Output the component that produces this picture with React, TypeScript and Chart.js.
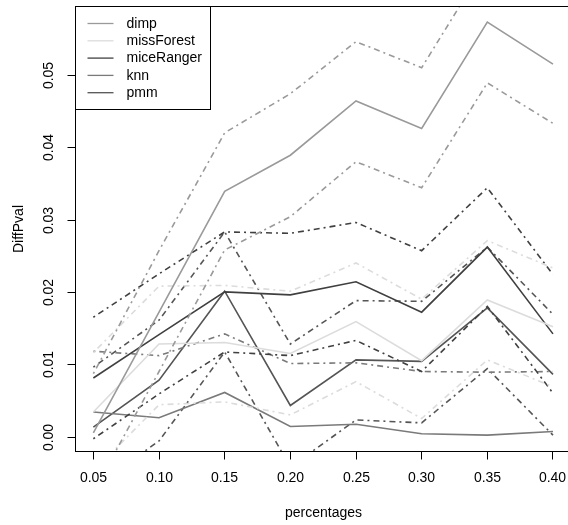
import React, { useEffect, useRef } from "react";
import { Chart, registerables } from "chart.js";
Chart.register(...registerables);

// ---- data ----
const percentages = [0.05, 0.1, 0.15, 0.2, 0.25, 0.3, 0.35, 0.4];
const xTickLabels = ["0.05", "0.10", "0.15", "0.20", "0.25", "0.30", "0.35", "0.40"];
const yTickValues = [0, 0.01, 0.02, 0.03, 0.04, 0.05];
const yTickLabels = ["0.00", "0.01", "0.02", "0.03", "0.04", "0.05"];
const xTitle = "percentages";
const yTitle = "DiffPval";
const methods = ["dimp", "missForest", "miceRanger", "knn", "pmm"];
const methodColors = ["#9a9a9a", "#dcdcdc", "#404040", "#7a7a7a", "#555555"];

const dimpMean = [0.0006, 0.0173, 0.034, 0.039, 0.0465, 0.0427, 0.0574, 0.0516];
const dimpUpper = [0.0088, 0.0258, 0.0421, 0.0475, 0.0547, 0.0511, 0.0658, 0.0598];
const dimpLower = [-0.0076, 0.0091, 0.0259, 0.0305, 0.0381, 0.0345, 0.049, 0.0434];

const missForestMean = [0.0035, 0.0129, 0.0131, 0.0116, 0.016, 0.0106, 0.019, 0.0153];
const missForestUpper = [0.0117, 0.0209, 0.021, 0.0202, 0.0241, 0.0191, 0.0272, 0.0234];
const missForestLower = [-0.0047, 0.0045, 0.0049, 0.0031, 0.0077, 0.0026, 0.0107, 0.007];

const miceRangerMean = [0.0082, 0.0142, 0.0201, 0.0197, 0.0215, 0.0173, 0.0263, 0.0143];
const miceRangerUpper = [0.0166, 0.0226, 0.0284, 0.0282, 0.0297, 0.0258, 0.0345, 0.0225];
const miceRangerLower = [-0.0002, 0.006, 0.0118, 0.0113, 0.0134, 0.0091, 0.0181, 0.0061];

const knnMean = [0.0035, 0.0027, 0.0062, 0.0015, 0.0018, 0.0005, 0.0003, 0.0008];
const knnUpper = [0.0119, 0.0113, 0.0143, 0.0102, 0.0103, 0.0091, 0.009, 0.0091];
const knnLower = [-0.0049, -0.0059, -0.0021, -0.0074, -0.0069, -0.0083, -0.0086, -0.0077];

const pmmMean = [0.0014, 0.0079, 0.0202, 0.0044, 0.0107, 0.0105, 0.0179, 0.0087];
const pmmUpper = [0.0097, 0.0162, 0.0284, 0.0129, 0.0189, 0.0188, 0.0263, 0.017];
const pmmLower = [-0.007, -0.0005, 0.0118, -0.0041, 0.0024, 0.002, 0.0095, 0.0003];

const seriesMeans = [dimpMean, missForestMean, miceRangerMean, knnMean, pmmMean];
const seriesUpper = [dimpUpper, missForestUpper, miceRangerUpper, knnUpper, pmmUpper];
const seriesLower = [dimpLower, missForestLower, miceRangerLower, knnLower, pmmLower];

const FONT = '14px "Liberation Sans", Arial, Helvetica, sans-serif';
const DOTDASH = [2, 4, 6, 4];

const rPlot = {
  id: "rplot",
  afterDraw(chart: any) {
    const ctx = chart.ctx as CanvasRenderingContext2D;
    const a = chart.chartArea;
    const xs = chart.scales.x;
    const ys = chart.scales.y;
    ctx.save();
    ctx.strokeStyle = "#000";
    ctx.fillStyle = "#000";
    ctx.lineWidth = 1;
    // box
    ctx.strokeRect(a.left, a.top, a.right - a.left, a.bottom - a.top);
    ctx.font = FONT;
    // x ticks
    ctx.textAlign = "center";
    ctx.textBaseline = "middle";
    percentages.forEach((v, i) => {
      const px = Math.floor(xs.getPixelForValue(v)) + 0.5;
      ctx.beginPath();
      ctx.moveTo(px, a.bottom);
      ctx.lineTo(px, a.bottom + 8);
      ctx.stroke();
      ctx.fillText(xTickLabels[i], px, 478);
    });
    // y ticks
    yTickValues.forEach((v, i) => {
      const py = Math.floor(ys.getPixelForValue(v)) + 0.5;
      ctx.beginPath();
      ctx.moveTo(a.left, py);
      ctx.lineTo(a.left - 8, py);
      ctx.stroke();
      ctx.save();
      ctx.translate(49, py);
      ctx.rotate(-Math.PI / 2);
      ctx.fillText(yTickLabels[i], 0, 0);
      ctx.restore();
    });
    // titles
    ctx.fillText(xTitle, (a.left + a.right) / 2, 513);
    ctx.save();
    ctx.translate(19, (a.top + a.bottom) / 2);
    ctx.rotate(-Math.PI / 2);
    ctx.fillText(yTitle, 0, 0);
    ctx.restore();
    // legend
    const lx = a.left, ly = a.top, lw = 135, lh = 103;
    ctx.fillStyle = "#fff";
    ctx.fillRect(lx, ly, lw, lh);
    ctx.strokeStyle = "#000";
    ctx.strokeRect(lx, ly, lw, lh);
    ctx.textAlign = "left";
    methods.forEach((m, i) => {
      const yy = ly + 17.5 + i * 17.3;
      ctx.strokeStyle = methodColors[i];
      ctx.lineWidth = 1.3;
      ctx.beginPath();
      ctx.moveTo(lx + 12, yy - 0.5);
      ctx.lineTo(lx + 38, yy - 0.5);
      ctx.stroke();
      ctx.fillStyle = "#000";
      ctx.fillText(m, lx + 51, yy);
    });
    ctx.restore();
  },
};

export default function App() {
  const ref = useRef<HTMLCanvasElement>(null);
  useEffect(() => {
    if (!ref.current) return;
    const datasets: any[] = [];
    methods.forEach((m, k) => {
      const base = {
        borderColor: methodColors[k],
        borderWidth: 1.6,
        pointRadius: 0,
        tension: 0,
        fill: false,
        clip: 0,
      };
      datasets.push({ ...base, label: m, data: percentages.map((x, i) => ({ x, y: seriesMeans[k][i] })) });
      datasets.push({ ...base, label: m + " upper", borderDash: DOTDASH, data: percentages.map((x, i) => ({ x, y: seriesUpper[k][i] })) });
      datasets.push({ ...base, label: m + " lower", borderDash: DOTDASH, data: percentages.map((x, i) => ({ x, y: seriesLower[k][i] })) });
    });
    const chart = new Chart(ref.current, {
      type: "line",
      data: { datasets },
      options: {
        animation: false,
        responsive: false,
        devicePixelRatio: 1,
        events: [],
        layout: { padding: { left: 75.5, top: 6.5, right: 8.5, bottom: 73.5 } },
        plugins: { legend: { display: false }, tooltip: { enabled: false } },
        scales: {
          x: { type: "linear", min: 0.0364, max: 0.4141, display: false },
          y: { type: "linear", min: -0.00196, max: 0.05956, display: false },
        },
      },
      plugins: [rPlot],
    });
    return () => chart.destroy();
  }, []);
  return (
    <div style={{ position: "fixed", left: 0, top: 0, width: 568, height: 525, overflow: "hidden", background: "#fff" }}>
      <canvas ref={ref} width={580} height={525} style={{ width: 580, height: 525, display: "block" }} />
    </div>
  );
}
